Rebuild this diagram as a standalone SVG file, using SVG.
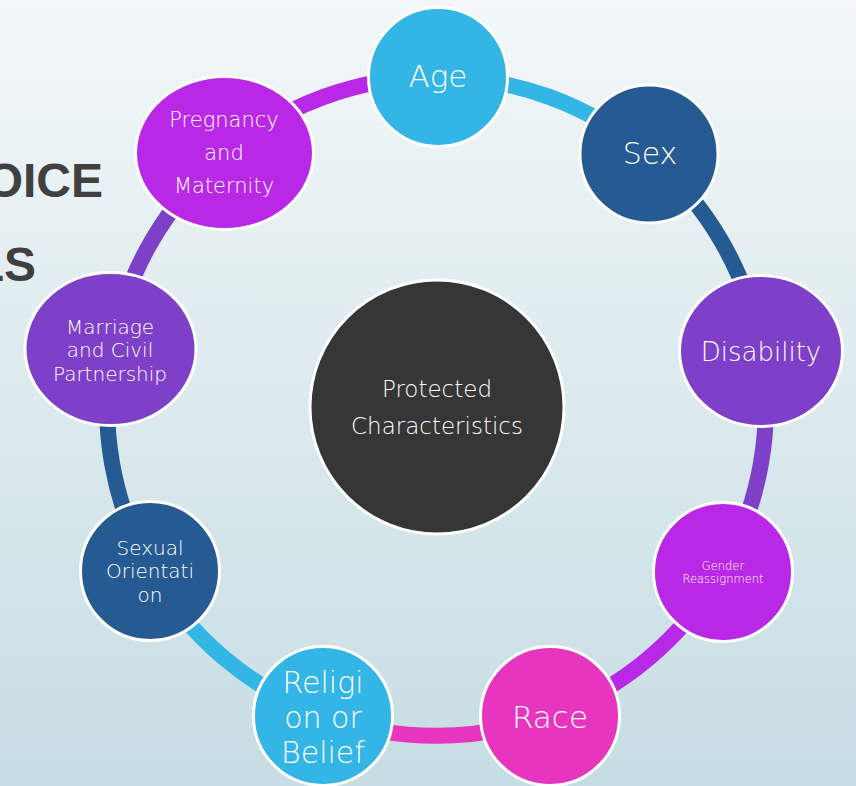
<svg xmlns="http://www.w3.org/2000/svg" width="856" height="786" viewBox="0 0 856 786">
<defs>
<linearGradient id="bg" x1="0" y1="0" x2="0" y2="1">
<stop offset="0" stop-color="#F3F7F9"/>
<stop offset="1" stop-color="#C6DDE3"/>
</linearGradient>
<style>
.arc{fill:none;stroke-width:16}
.node{stroke:#FFFFFF;stroke-width:3}
.t{font-family:"DejaVu Sans","Liberation Sans",sans-serif;font-weight:200;fill:#FFFFFF;text-anchor:middle}
.h{font-family:"Liberation Sans",Arial,sans-serif;font-weight:bold;fill:#404040;text-anchor:end;font-size:48px}
</style>
</defs>
<rect x="0" y="0" width="856" height="786" fill="url(#bg)"/>
<g id="title">
<text class="h" x="103" y="197">OICE</text>
<text class="h" x="36" y="281">LS</text>
</g>
<g id="connectors">
<path class="arc" stroke="#33B5E5" d="M436.5,77 A329.4,329.4 0 0 1 648.2,154.1"/>
<path class="arc" stroke="#265A92" d="M648.2,154.1 A329.4,329.4 0 0 1 760.9,349.2"/>
<path class="arc" stroke="#7E3FC9" d="M760.9,349.2 A329.4,329.4 0 0 1 721.8,571.1"/>
<path class="arc" stroke="#B928E6" d="M721.8,571.1 A329.4,329.4 0 0 1 549.2,715.9"/>
<path class="arc" stroke="#E835BF" d="M549.2,715.9 A329.4,329.4 0 0 1 323.8,715.9"/>
<path class="arc" stroke="#33B5E5" d="M323.8,715.9 A329.4,329.4 0 0 1 151.2,571.1"/>
<path class="arc" stroke="#265A92" d="M151.2,571.1 A329.4,329.4 0 0 1 112.1,349.2"/>
<path class="arc" stroke="#7E3FC9" d="M112.1,349.2 A329.4,329.4 0 0 1 224.8,154.1"/>
<path class="arc" stroke="#B928E6" d="M224.8,154.1 A329.4,329.4 0 0 1 436.5,77"/>
</g>
<g id="center">
<circle class="node" cx="437" cy="407" r="127" fill="#363636"/>
<text class="t" x="437" y="397" font-size="23">Protected</text>
<text class="t" x="437" y="434" font-size="23">Characteristics</text>
</g>
<g id="age">
<circle class="node" cx="438" cy="77" r="69.5" fill="#33B5E5"/>
<text class="t" x="438" y="87" font-size="31">Age</text>
</g>
<g id="sex">
<circle class="node" cx="649" cy="154" r="69" fill="#265A92"/>
<text class="t" x="650" y="164" font-size="30">Sex</text>
</g>
<g id="disability">
<ellipse class="node" cx="761" cy="351" rx="81.5" ry="75.5" fill="#7E3FC9"/>
<text class="t" x="761" y="361" font-size="26">Disability</text>
</g>
<g id="gender-reassignment">
<circle class="node" cx="723" cy="572" r="69.5" fill="#B928E6"/>
<text class="t" x="723" y="570" font-size="11.5">Gender</text>
<text class="t" x="723" y="583" font-size="11.5">Reassignment</text>
</g>
<g id="race">
<circle class="node" cx="550" cy="716" r="69.5" fill="#E835BF"/>
<text class="t" x="550" y="728" font-size="31">Race</text>
</g>
<g id="religion">
<circle class="node" cx="323" cy="716" r="69.5" fill="#33B5E5"/>
<text class="t" x="323" y="693" font-size="30">Religi</text>
<text class="t" x="323" y="728" font-size="30">on or</text>
<text class="t" x="323" y="763" font-size="30">Belief</text>
</g>
<g id="sexual-orientation">
<circle class="node" cx="150" cy="571" r="69.5" fill="#265A92"/>
<text class="t" x="150" y="555" font-size="20">Sexual</text>
<text class="t" x="150" y="578" font-size="20">Orientati</text>
<text class="t" x="150" y="602" font-size="20">on</text>
</g>
<g id="marriage">
<ellipse class="node" cx="110.5" cy="349" rx="85.5" ry="76.5" fill="#7E3FC9"/>
<text class="t" x="110" y="334" font-size="20">Marriage</text>
<text class="t" x="110" y="357" font-size="20">and Civil</text>
<text class="t" x="110" y="381" font-size="20">Partnership</text>
</g>
<g id="pregnancy">
<ellipse class="node" cx="224.5" cy="153" rx="89" ry="76.5" fill="#B928E6"/>
<text class="t" x="224" y="127" font-size="21">Pregnancy</text>
<text class="t" x="224" y="160" font-size="21">and</text>
<text class="t" x="224" y="193" font-size="21">Maternity</text>
</g>
</svg>
